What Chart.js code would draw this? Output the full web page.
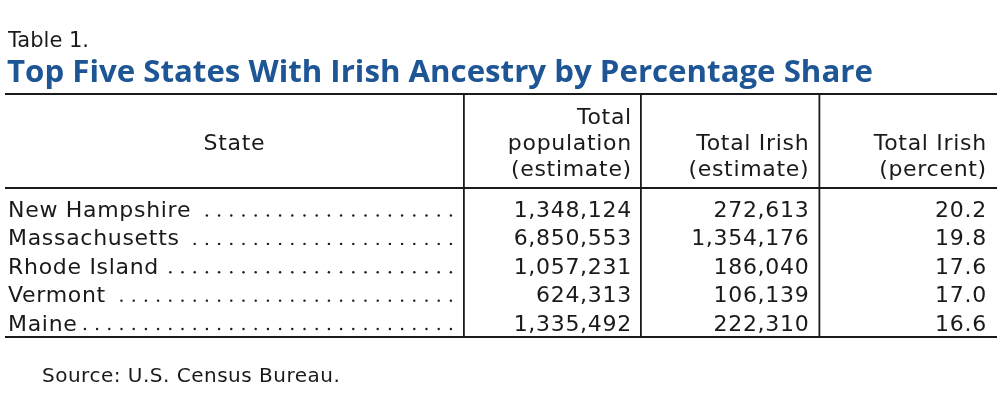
<!DOCTYPE html>
<html>
<head>
<meta charset="utf-8">
<script src="https://cdn.jsdelivr.net/npm/chart.js@4"></script>
<style>
  body { margin: 0; background: #fff; }
  #wrap { width: 1000px; height: 402px; }
</style>
</head>
<body>
<div id="wrap"><canvas id="tableChart" width="1000" height="402"></canvas></div>
<script>
// table data
const states = ['New Hampshire', 'Massachusetts', 'Rhode Island', 'Vermont', 'Maine'];
const totalPopulation = [1348124, 6850553, 1057231, 624313, 1335492];
const totalIrish = [272613, 1354176, 186040, 106139, 222310];
const irishPercent = [20.2, 19.8, 17.6, 17.0, 16.6];
const headers = [['State'], ['Total', 'population', '(estimate)'], ['Total Irish', '(estimate)'], ['Total Irish', '(percent)']];

const tableLabel = 'Table 1.';
const titleText = 'Top Five States With Irish Ancestry by Percentage Share';
const sourceText = 'Source: U.S. Census Bureau.';

const fmtInt = v => v.toLocaleString('en-US');
const fmtPct = v => v.toFixed(1);

const bodyFont = '22px "DejaVu Sans"';
const ink = '#1a1a1a';

const tablePlugin = {
    id: 'tablePlugin',
    afterDraw(chart) {
        const ctx = chart.ctx;
        const area = chart.chartArea;
        const x = chart.scales.x;
        const y = chart.scales.y;
        const colRight = [1, 2, 3].map(c => x.getPixelForValue(c));
        const dividers = [colRight[0] - 168, colRight[0] + 9, colRight[1] + 10];
        const top = 94;

        ctx.save();
        ctx.fillStyle = ink;
        ctx.textBaseline = 'alphabetic';

        // caption + title
        ctx.font = '21px "DejaVu Sans"';
        ctx.textAlign = 'left';
        ctx.fillText(tableLabel, 8, 47);

        let size = 26;
        ctx.font = 'bold ' + size + 'px "Open Sans"';
        size = size * 866 / ctx.measureText(titleText).width;
        ctx.font = 'bold ' + size + 'px "Open Sans"';
        ctx.fillStyle = '#1d5595';
        ctx.fillText(titleText, 7, 82);

        // rules
        ctx.strokeStyle = ink;
        ctx.lineWidth = 2;
        [top, area.top, area.bottom].forEach(py => {
            ctx.beginPath();
            ctx.moveTo(area.left, py);
            ctx.lineTo(area.right, py);
            ctx.stroke();
        });
        ctx.lineWidth = 1.8;
        dividers.forEach(px => {
            ctx.beginPath();
            ctx.moveTo(px, top);
            ctx.lineTo(px, area.bottom);
            ctx.stroke();
        });

        // header
        ctx.fillStyle = ink;
        ctx.font = bodyFont;
        ctx.letterSpacing = '0.7px';
        ctx.textAlign = 'center';
        ctx.fillText(headers[0][0], (area.left + dividers[0]) / 2, 150);
        ctx.textAlign = 'right';
        headers.slice(1).forEach((lines, c) => {
            const base = 176 - (lines.length - 1) * 26;
            lines.forEach((t, i) => ctx.fillText(t, colRight[c], base + i * 26));
        });

        // state names with dot leaders
        ctx.textAlign = 'left';
        states.forEach((s, i) => {
            const py = y.getPixelForValue(i);
            ctx.fillText(s, area.left + 3, py);
            const end = area.left + 3 + ctx.measureText(s).width;
            for (let dx = dividers[0] - 13; dx > end + 5; dx -= 12.2) {
                ctx.beginPath();
                ctx.arc(dx, py - 1.5, 1.2, 0, Math.PI * 2);
                ctx.fill();
            }
        });

        // numeric cells, positioned by the dataset points
        ctx.textAlign = 'right';
        chart.data.datasets.forEach((ds, d) => {
            const meta = chart.getDatasetMeta(d);
            meta.data.forEach((pt, i) => {
                ctx.fillText(ds.fmt(ds.raw[i]), pt.x, pt.y);
            });
        });

        // source
        ctx.textAlign = 'left';
        ctx.font = '20px "DejaVu Sans"';
        ctx.letterSpacing = '0.5px';
        ctx.fillText(sourceText, 42, 382);
        ctx.restore();
    }
};

const makeSet = (values, col, fmt) => ({
    label: headers[col].join(' '),
    data: values.map((v, i) => ({ x: col, y: i })),
    raw: values,
    fmt: fmt,
    pointRadius: 0,
    showLine: false
});

const ctxTable = document.getElementById('tableChart').getContext('2d');
const tableChart = new Chart(ctxTable, {
    type: 'scatter',
    data: {
        datasets: [
            makeSet(totalPopulation, 1, fmtInt),
            makeSet(totalIrish, 2, fmtInt),
            makeSet(irishPercent, 3, fmtPct)
        ]
    },
    options: {
        responsive: false,
        animation: false,
        devicePixelRatio: 1,
        layout: {
            padding: { top: 188, bottom: 65, left: 5, right: 3 }
        },
        plugins: {
            legend: { display: false },
            tooltip: { enabled: false }
        },
        scales: {
            x: { type: 'linear', display: false, min: -2.532, max: 3.057 },
            y: { type: 'linear', display: false, reverse: true, min: -1.022, max: 4.229 }
        }
    },
    plugins: [tablePlugin]
});
</script>
</body>
</html>
